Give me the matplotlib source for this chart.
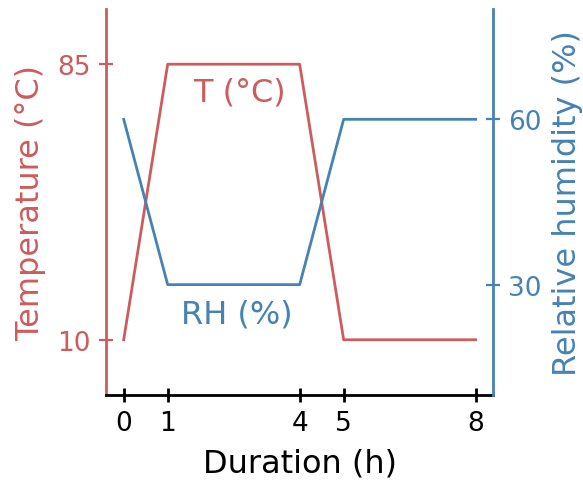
import matplotlib
matplotlib.use('Agg')
import matplotlib.pyplot as plt

# profile: duration (h) vs temperature and relative humidity
hours = [0, 1, 4, 5, 8]
temp = [10, 85, 85, 10, 10]
rh = [60, 30, 30, 60, 60]
temp_ticks = [10, 85]
rh_ticks = [30, 60]

red = '#cd5c5c'
blue = '#4682b4'

fig = plt.figure(figsize=(5.83, 4.81), dpi=100)
ax = fig.add_axes([0.182, 0.177, 0.664, 0.802])
ax2 = ax.twinx()

ax.plot(hours, temp, color=red, lw=2)
ax2.plot(hours, rh, color=blue, lw=2)

ax.set_xlim(-0.4, 8.4)
ax.set_ylim(-5, 100)
ax2.set_ylim(10, 80)

ax.set_xticks(hours)
ax.set_yticks(temp_ticks)
ax2.set_yticks(rh_ticks)

for a in (ax, ax2):
    a.spines['top'].set_visible(False)
    for s in a.spines.values():
        s.set_linewidth(2)
ax.spines['right'].set_visible(False)
ax2.spines['left'].set_visible(False)
ax.spines['left'].set_color(red)
ax2.spines['right'].set_color(blue)
ax2.spines['bottom'].set_visible(False)

ax.tick_params(axis='x', direction='inout', length=10, width=2, labelsize=19, pad=6)
ax.tick_params(axis='y', direction='inout', length=10, width=1.6, colors=red, labelsize=19, pad=6)
ax2.tick_params(axis='y', direction='inout', length=10, width=1.6, colors=blue, labelsize=19, pad=6)

ax.set_xlabel('Duration (h)', fontsize=23, labelpad=8)
ax.set_ylabel('Temperature (°C)', fontsize=23, color=red, labelpad=8)
ax2.set_ylabel('Relative humidity (%)', fontsize=23, color=blue, labelpad=7)

ax.text(2.62, 77.5, 'T (°C)', color=red, fontsize=23, ha='center', va='center')
ax2.text(2.57, 24.6, 'RH (%)', color=blue, fontsize=23, ha='center', va='center')

fig.savefig('out.png', dpi=100)
